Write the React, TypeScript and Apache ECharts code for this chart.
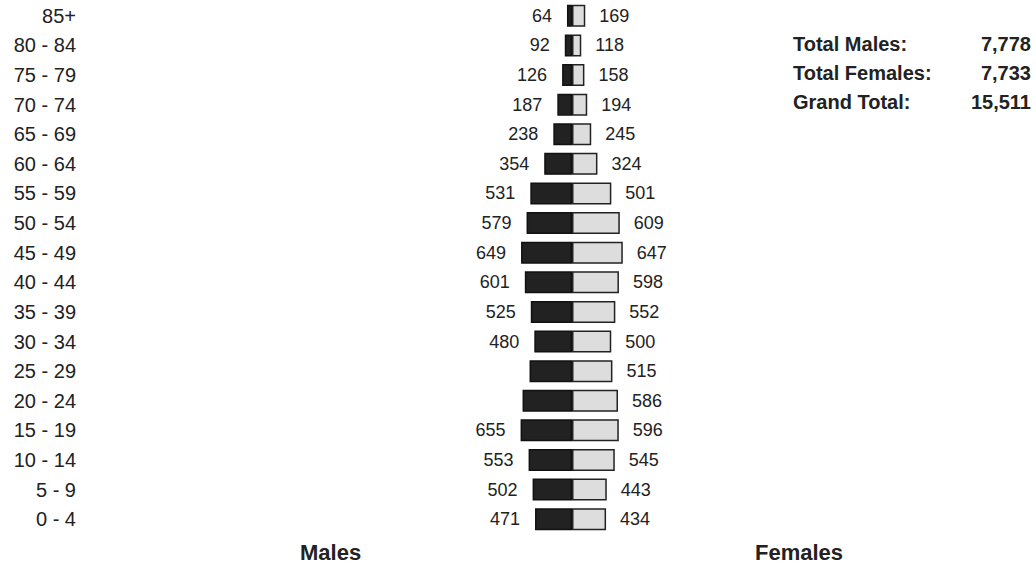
import React, { useEffect, useRef } from "react";
import * as echarts from "echarts";

const ageGroups = ["0 - 4", "5 - 9", "10 - 14", "15 - 19", "20 - 24", "25 - 29", "30 - 34", "35 - 39", "40 - 44", "45 - 49", "50 - 54", "55 - 59", "60 - 64", "65 - 69", "70 - 74", "75 - 79", "80 - 84", "85+"];
const males = [471, 502, 553, 655, 630, 541, 480, 525, 601, 649, 579, 531, 354, 238, 187, 126, 92, 64];
const females = [434, 443, 545, 596, 586, 515, 500, 552, 598, 647, 609, 501, 324, 245, 194, 158, 118, 169];
const hiddenMaleLabels = ["20 - 24", "25 - 29"];
const sideTitles = ["Males", "Females"];
const totalLabels = ["Total Males:", "Total Females:", "Grand Total:"];
const totalValues = ["7,778", "7,733", "15,511"];

const FONT = '"Liberation Sans", Arial, Helvetica, sans-serif';

export default function App() {
  const ref = useRef<HTMLDivElement>(null);
  useEffect(() => {
    document.body.style.margin = "0";
    const chart = echarts.init(ref.current!, null, { renderer: "svg" });
    const maleData = males.map((v, i) => ({
      value: -v,
      label: { show: !hiddenMaleLabels.includes(ageGroups[i]) },
    }));
    const totalsGraphics: any[] = [];
    totalLabels.forEach((t, i) => {
      totalsGraphics.push({
        type: "text",
        left: 793,
        top: 45 + i * 29 - 11,
        style: { text: t, font: `bold 20px ${FONT}`, fill: "#222" },
      });
      totalsGraphics.push({
        type: "text",
        right: 5,
        top: 45 + i * 29 - 11,
        style: { text: totalValues[i], font: `bold 20px ${FONT}`, fill: "#222", textAlign: "right" },
      });
    });
    chart.setOption({
      animation: false,
      backgroundColor: "#ffffff",
      grid: { left: 415, width: 314, top: 1, height: 533 },
      xAxis: { type: "value", min: -2000, max: 2000, show: false },
      yAxis: {
        type: "category",
        data: ageGroups,
        axisLine: { show: false },
        axisTick: { show: false },
        splitLine: { show: false },
        axisLabel: { margin: 339, fontSize: 20, color: "#222", fontFamily: FONT },
      },
      series: [
        {
          type: "bar",
          name: "Males",
          stack: "pop",
          barWidth: 22,
          data: maleData,
          itemStyle: { color: "#222222", borderColor: "#111111", borderWidth: 1.5 },
          label: {
            show: true,
            position: "left",
            distance: 15,
            fontSize: 18,
            color: "#222",
            fontFamily: FONT,
            formatter: (p: any) => String(Math.abs(p.value)),
          },
        },
        {
          type: "bar",
          name: "Females",
          stack: "pop",
          barWidth: 22,
          data: females,
          itemStyle: { color: "#dddddd", borderColor: "#222222", borderWidth: 1.5 },
          label: {
            show: true,
            position: "right",
            distance: 14,
            fontSize: 18,
            color: "#222",
            fontFamily: FONT,
          },
        },
      ],
      graphic: [
        {
          type: "text",
          left: 300,
          top: 541,
          style: { text: sideTitles[0], font: `bold 22px ${FONT}`, fill: "#222" },
        },
        {
          type: "text",
          left: 755,
          top: 541,
          style: { text: sideTitles[1], font: `bold 22px ${FONT}`, fill: "#222" },
        },
        ...totalsGraphics,
      ],
    });
    return () => chart.dispose();
  }, []);
  return <div ref={ref} style={{ width: 1036, height: 565 }} />;
}
